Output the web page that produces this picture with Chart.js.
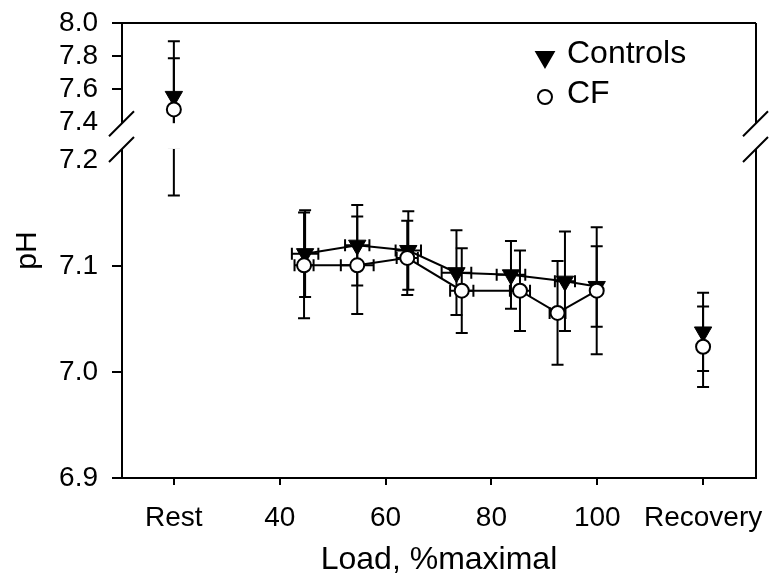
<!DOCTYPE html>
<html>
<head>
<meta charset="utf-8">
<script src="https://cdn.jsdelivr.net/npm/chart.js@4.4.1/dist/chart.umd.min.js"></script>
<style>
  html, body { margin: 0; padding: 0; background: #fff; }
  #chart { display: block; }
</style>
</head>
<body>
<canvas id="chart" width="769" height="585"></canvas>
<script>
const xTickValues = [20, 40, 60, 80, 100, 120];
const xTickLabels = ['Rest', '40', '60', '80', '100', 'Recovery'];
const yTickValues = [6.9, 7.0, 7.1, 7.2, 7.4, 7.6, 7.8, 8.0];

// Controls
const ctrlLoad    = [20, 44.8, 54.65, 64.3, 73.4, 83.7, 93.9, 99.9, 120];
const ctrlLoadErr = [0, 2.5, 2.3, 2.4, 2.8, 2.7, 1.9, 0, 0];
const ctrlPH      = [7.556, 7.112, 7.120, 7.115, 7.094, 7.092, 7.086, 7.081, 7.038];
const ctrlPHErr   = [0.333, 0.041, 0.038, 0.037, 0.040, 0.032, 0.047, 0.038, 0.037];

// CF
const cfLoad    = [20, 44.6, 54.65, 64.1, 74.4, 85.4, 92.5, 99.9, 120];
const cfLoadErr = [0, 1.8, 3.1, 2.0, 2.2, 1.9, 1.5, 0, 0];
const cfPH      = [7.477, 7.101, 7.101, 7.108, 7.077, 7.077, 7.056, 7.077, 7.024];
const cfPHErr   = [0.31, 0.050, 0.046, 0.035, 0.040, 0.038, 0.049, 0.060, 0.038];

const FONT = 'Liberation Sans, Arial, Helvetica, sans-serif';

// linear scale with a gap between breakRange[0] and breakRange[1]
class BrokenLinearScale extends Chart.LinearScale {
  _toDecimal(v) {
    const [lo, hi] = this.options.breakRange;
    const [sLow, sGap] = this.options.breakShares;
    if (v <= lo) return (v - this.min) / (lo - this.min) * sLow;
    if (v <= hi) return sLow + (v - lo) / (hi - lo) * sGap;
    return sLow + sGap + (v - hi) / (this.max - hi) * (1 - sLow - sGap);
  }
  getPixelForValue(v) {
    if (v === null || v === undefined || isNaN(v)) return NaN;
    return this.getPixelForDecimal(this._toDecimal(v));
  }
  getValueForPixel(p) {
    const d = this.getDecimalForPixel(p);
    const [lo, hi] = this.options.breakRange;
    const [sLow, sGap] = this.options.breakShares;
    if (d <= sLow) return this.min + d / sLow * (lo - this.min);
    if (d <= sLow + sGap) return lo + (d - sLow) / sGap * (hi - lo);
    return hi + (d - sLow - sGap) / (1 - sLow - sGap) * (this.max - hi);
  }
}
BrokenLinearScale.id = 'brokenLinear';
BrokenLinearScale.defaults = Chart.LinearScale.defaults;
Chart.register(BrokenLinearScale);

function points(xs, ys) {
  return xs.map((x, i) => ({ x: x, y: ys[i] }));
}

// no line to the Rest and Recovery points
const hideEnds = n => ctx =>
  (ctx.p0DataIndex === 0 || ctx.p1DataIndex === n - 1) ? 'rgba(0,0,0,0)' : '#000';

const errorBars = {
  id: 'errorBars',
  beforeDatasetsDraw(chart) {
    const { ctx, scales: { x, y } } = chart;
    ctx.save();
    ctx.strokeStyle = '#000';
    ctx.lineWidth = 2;
    chart.data.datasets.forEach(ds => {
      ds.data.forEach((p, i) => {
        const px = x.getPixelForValue(p.x);
        const py = y.getPixelForValue(p.y);
        const ey = ds.yErr[i], ex = ds.xErr[i];
        ctx.beginPath();
        if (ey > 0) {
          const t = y.getPixelForValue(p.y + ey), b = y.getPixelForValue(p.y - ey);
          ctx.moveTo(px, t); ctx.lineTo(px, b);
          ctx.moveTo(px - 6, t); ctx.lineTo(px + 6, t);
          ctx.moveTo(px - 6, b); ctx.lineTo(px + 6, b);
        }
        if (ex > 0) {
          const l = x.getPixelForValue(p.x - ex), r = x.getPixelForValue(p.x + ex);
          ctx.moveTo(l, py); ctx.lineTo(r, py);
          ctx.moveTo(l, py - 6); ctx.lineTo(l, py + 6);
          ctx.moveTo(r, py - 6); ctx.lineTo(r, py + 6);
        }
        ctx.stroke();
      });
    });
    ctx.restore();
  }
};

const frameAndLegend = {
  id: 'frameAndLegend',
  afterDatasetsDraw(chart) {
    const { ctx, chartArea: a, scales: { y } } = chart;
    const [lo, hi] = y.options.breakRange;
    const gTop = y.getPixelForValue(hi);
    const gBot = y.getPixelForValue(lo);
    ctx.save();
    // blank the break band
    ctx.fillStyle = '#fff';
    ctx.fillRect(a.left + 2, gTop + 1, a.right - a.left - 4, gBot - gTop - 2);

    ctx.strokeStyle = '#000';
    ctx.lineWidth = 2;
    ctx.beginPath();
    ctx.moveTo(a.left, a.top); ctx.lineTo(a.right, a.top);
    ctx.moveTo(a.left - 1, a.bottom); ctx.lineTo(a.right + 1, a.bottom);
    [a.left, a.right].forEach(sx => {
      ctx.moveTo(sx, a.top); ctx.lineTo(sx, gTop + 1);
      ctx.moveTo(sx, gBot - 1); ctx.lineTo(sx, a.bottom);
      [gTop + 1, gBot - 1].forEach(sy => {
        ctx.moveTo(sx - 13, sy + 13); ctx.lineTo(sx + 12, sy - 12);
      });
    });
    ctx.stroke();

    // legend
    const lx = a.right - 211;
    const rows = [
      { ds: chart.data.datasets[1], y: a.top + 34 },
      { ds: chart.data.datasets[0], y: a.top + 74 }
    ];
    ctx.font = '32px ' + FONT;
    ctx.textBaseline = 'middle';
    ctx.textAlign = 'left';
    rows.forEach(r => {
      ctx.fillStyle = r.ds.pointBackgroundColor;
      ctx.strokeStyle = '#000';
      ctx.lineWidth = 2;
      Chart.helpers.drawPoint(ctx, {
        pointStyle: r.ds.pointStyle, radius: r.ds.pointRadius,
        rotation: r.ds.pointRotation || 0, borderWidth: 2
      }, lx, r.y);
      ctx.fillStyle = '#000';
      ctx.fillText(r.ds.label, lx + 22, r.y - 3);
    });
    ctx.restore();
  }
};

new Chart(document.getElementById('chart'), {
  type: 'scatter',
  data: {
    datasets: [
      {
        label: 'CF',
        data: points(cfLoad, cfPH),
        xErr: cfLoadErr, yErr: cfPHErr,
        showLine: true,
        borderColor: '#000', borderWidth: 2,
        segment: { borderColor: hideEnds(cfLoad.length) },
        pointStyle: 'circle', pointRadius: 7,
        pointBackgroundColor: '#fff', pointBorderColor: '#000', pointBorderWidth: 2,
        order: 0
      },
      {
        label: 'Controls',
        data: points(ctrlLoad, ctrlPH),
        xErr: ctrlLoadErr, yErr: ctrlPHErr,
        showLine: true,
        borderColor: '#000', borderWidth: 2,
        segment: { borderColor: hideEnds(ctrlLoad.length) },
        pointStyle: 'triangle', pointRotation: 180, pointRadius: 10,
        pointBackgroundColor: '#000', pointBorderColor: '#000', pointBorderWidth: 1,
        order: 1
      }
    ]
  },
  options: {
    responsive: false,
    animation: false,
    devicePixelRatio: 1,
    layout: { padding: { top: 23, right: 13, left: 0, bottom: 0 } },
    plugins: { legend: { display: false }, tooltip: { enabled: false } },
    scales: {
      x: {
        type: 'linear', min: 10.2, max: 130,
        afterBuildTicks: axis => { axis.ticks = xTickValues.map(v => ({ value: v })); },
        afterFit: axis => { axis.height = 107; axis.paddingLeft = 0; axis.paddingRight = 0; },
        border: { display: false },
        grid: { drawOnChartArea: false, tickLength: 7, lineWidth: 2, tickWidth: 2, tickColor: '#000' },
        ticks: {
          color: '#000', font: { family: FONT, size: 28 }, padding: 16, maxRotation: 0,
          callback: v => xTickLabels[xTickValues.indexOf(v)]
        },
        title: {
          display: true, text: 'Load, %maximal', color: '#000',
          font: { family: FONT, size: 32 }, padding: { top: 0, bottom: 6 }
        }
      },
      y: {
        type: 'brokenLinear', min: 6.9, max: 8.0,
        breakRange: [7.21, 7.4], breakShares: [0.721, 0.061],
        afterBuildTicks: axis => { axis.ticks = yTickValues.map(v => ({ value: v })); },
        afterFit: axis => { axis.width = 122; axis.paddingTop = 0; axis.paddingBottom = 0; },
        border: { display: false },
        grid: {
          drawOnChartArea: false, tickLength: 10, lineWidth: 2, tickWidth: 2,
          tickColor: c => (c.tick && (c.tick.value === 7.2 || c.tick.value === 7.4)) ? 'rgba(0,0,0,0)' : '#000'
        },
        ticks: {
          color: '#000', font: { family: FONT, size: 28 }, padding: 14,
          callback: v => v.toFixed(1)
        },
        title: {
          display: true, text: 'pH', color: '#000',
          font: { family: FONT, size: 30 }, padding: { top: 10, bottom: 0 }
        }
      }
    }
  },
  plugins: [errorBars, frameAndLegend]
});
</script>
</body>
</html>
